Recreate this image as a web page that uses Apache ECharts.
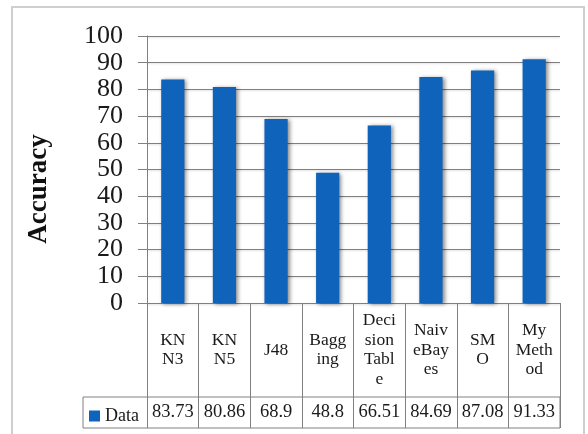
<!DOCTYPE html>
<html>
<head>
<meta charset="utf-8">
<style>
  html, body { margin: 0; padding: 0; background: #ffffff; }
  #chart { width: 588px; height: 434px; }
</style>
<script src="https://cdn.jsdelivr.net/npm/echarts@6/dist/echarts.min.js"></script>
</head>
<body>
<div id="chart"></div>
<script>
// ---- data ----
var categories = ['KN\nN3', 'KN\nN5', 'J48', 'Bagg\ning', 'Deci\nsion\nTabl\ne', 'Naiv\neBay\nes', 'SM\nO', 'My\nMeth\nod'];
var values = [83.73, 80.86, 68.9, 48.8, 66.51, 84.69, 87.08, 91.33];
var valueLabels = ['83.73', '80.86', '68.9', '48.8', '66.51', '84.69', '87.08', '91.33'];
var seriesName = 'Data';
var yTicks = { min: 0, max: 100, interval: 10 };

// ---- layout ----
var W = 588, H = 434;
var GL = 147, GR = 560, GT = 36, GB = 303;
var ROW1 = 94, ROW2 = 31, LEG_LEFT = 83;
var SERIF = 'Liberation Serif';
var LINE = '#808080';

var chart = echarts.init(document.getElementById('chart'), null, { renderer: 'canvas' });
chart.setOption({
  backgroundColor: '#ffffff',
  animation: false,
  textStyle: { fontFamily: SERIF },
  grid: { left: GL, right: W - GR, top: GT, bottom: H - GB, containLabel: false },
  legend: {
    data: [seriesName],
    left: 89, top: GB + ROW1 + 10,
    padding: 0,
    itemWidth: 11, itemHeight: 11,
    icon: 'rect',
    textStyle: { fontFamily: SERIF, fontSize: 18, color: '#1a1a1a' }
  },
  xAxis: [{
    type: 'category',
    data: categories,
    position: 'bottom',
    axisLine: { show: true, lineStyle: { color: LINE, width: 1 } },
    axisTick: { show: true, alignWithLabel: false, length: ROW1 + ROW2, lineStyle: { color: LINE, width: 1 } },
    axisLabel: {
      interval: 0, margin: ROW1 / 2, verticalAlign: 'middle',
      fontFamily: SERIF, fontSize: 17.5, lineHeight: 19.5, color: '#1a1a1a'
    },
    splitLine: { show: false }
  }, {
    type: 'category',
    data: categories,
    position: 'bottom',
    offset: ROW1,
    axisLine: { show: false },
    axisTick: { show: false },
    axisLabel: {
      interval: 0, margin: ROW2 / 2, verticalAlign: 'middle',
      fontFamily: SERIF, fontSize: 18.5, color: '#1a1a1a',
      formatter: function (v, i) { return valueLabels[i]; }
    },
    splitLine: { show: false }
  }],
  yAxis: {
    type: 'value',
    min: yTicks.min, max: yTicks.max, interval: yTicks.interval,
    axisLine: { show: true, lineStyle: { color: LINE, width: 1 } },
    axisTick: { show: true, length: 9, lineStyle: { color: LINE, width: 1 } },
    axisLabel: { margin: 24, fontFamily: SERIF, fontSize: 26, color: '#1a1a1a' },
    splitLine: { show: true, lineStyle: { color: LINE, width: 1, shadowColor: 'rgba(0,0,0,0.15)', shadowBlur: 2, shadowOffsetY: 1 } }
  },
  series: [{
    name: seriesName,
    type: 'bar',
    xAxisIndex: 0,
    data: values,
    barWidth: '45%',
    itemStyle: {
      color: '#0F63BA',
      shadowColor: 'rgba(0,0,0,0.45)', shadowBlur: 4, shadowOffsetX: 2, shadowOffsetY: 1
    }
  }],
  graphic: [
    {
      type: 'rect', silent: true, z: 0,
      shape: { x: 12, y: 7, width: 572, height: 440 },
      style: { fill: 'none', stroke: '#cfcfcf', lineWidth: 2 }
    },
    {
      type: 'rect', silent: true, z: 10,
      shape: { x: LEG_LEFT, y: GB + ROW1, width: GR - LEG_LEFT, height: ROW2 },
      style: { fill: 'none', stroke: LINE, lineWidth: 1 }
    },
    {
      type: 'text', silent: true, z: 10,
      x: 39, y: 189, rotation: Math.PI / 2,
      style: {
        text: 'Accuracy', fontFamily: SERIF, fontSize: 27, fontWeight: 'bold',
        fill: '#111', align: 'center', verticalAlign: 'middle'
      }
    }
  ]
});
</script>
</body>
</html>
